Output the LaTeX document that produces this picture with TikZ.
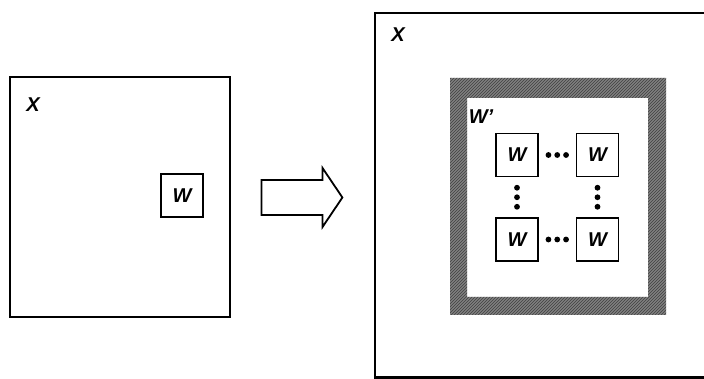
\documentclass[tikz,border=0pt]{standalone}
\usepackage{fontspec}
\setmainfont{Liberation Sans}
\usetikzlibrary{shapes.arrows}
\usetikzlibrary{patterns}
\usetikzlibrary{calc}
\newcommand{\cellDots}[2]{%%
  %% Three dots between two neighbouring cells.
  \foreach \t in {0.26,0.5,0.74}
    \fill ($(#1)!\t!(#2)$) circle (2.9);
}
\newcommand{\wCell}[2]{%%
  \node[cellStyle] (#1) at (#2) {W};
}
\begin{document}
\begin{tikzpicture}[%%
  x=1pt,y=-1pt,%%
  lineStyle/.style={-,line width=2.2pt},%%
  labelStyle/.style={inner sep=0pt,font=\fontsize{20}{24}\selectfont\bfseries\itshape},%%
  cellStyle/.style={draw,line width=1.8pt,minimum width=42,minimum height=43,inner sep=0pt,%%
    font=\fontsize{20}{24}\selectfont\bfseries\itshape},%%
  arrowStyle/.style={draw,line width=1.8pt,single arrow,minimum height=81,minimum width=59,%%
    inner xsep=0pt,inner ysep=9.5pt,single arrow tip angle=112,anchor=center},%%
  frameStyle/.style={fill=black!50,even odd rule}
]
\useasboundingbox (0,0) rectangle (704,379);
%%
%% The left square.
\coordinate (leftNW) at (10,77);
\coordinate (leftSE) at (230,317);
\draw[lineStyle] (leftNW) rectangle (leftSE);
\node[labelStyle] (leftX) at (33,105) {X};
\wCell{w}{182,195.5}
%%
%% The block arrow.
\node[arrowStyle] (blockArrow) at (296,197.5) {};
%%
%% The right square, running off the page.
\coordinate (rightNE) at (706,13);
\coordinate (rightNW) at (375,13);
\coordinate (rightSW) at (375,377.5);
\coordinate (rightSE) at (706,377.5);
\draw[lineStyle] (rightNE) -- (rightNW) -- (rightSW) -- (rightSE);
\node[labelStyle] (rightX) at (398,35) {X};
%%
%% The hatched frame W'.
\fill[frameStyle] (450,78) rectangle (666,315) (467,98) rectangle (648,297);
\path[pattern=north east lines,pattern color=black!75,even odd rule]
  (450,78) rectangle (666,315) (467,98) rectangle (648,297);
\node[labelStyle] (wPrime) at (481,117) {W'};
%%
%% The grid of cells.
\wCell{wA}{517,155}
\wCell{wB}{597.5,155}
\wCell{wC}{517,239.5}
\wCell{wD}{597.5,239.5}
\cellDots{wA.east}{wB.west}
\cellDots{wC.east}{wD.west}
\cellDots{wA.south}{wC.north}
\cellDots{wB.south}{wD.north}
\end{tikzpicture}
\end{document}
